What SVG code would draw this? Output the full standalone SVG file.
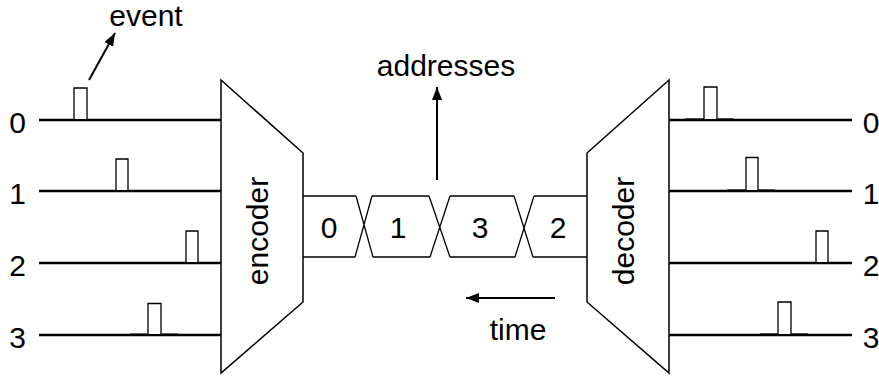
<svg xmlns="http://www.w3.org/2000/svg" width="879" height="376" viewBox="0 0 879 376">
  <style>
    .lbl { font-family: "Liberation Sans", Arial, Helvetica, sans-serif; font-size: 30px; fill: #000; }
    .mid { text-anchor: middle; }
    .wire { stroke: #000; stroke-width: 2.6; fill: none; }
    .pulse { stroke: #000; stroke-width: 1.3; fill: #fff; }
    .trail { stroke: #555; stroke-width: 1; fill: none; }
    .box { stroke: #000; stroke-width: 1.5; fill: #fff; }
    .bus { stroke: #000; stroke-width: 1.3; fill: none; }
    .arrow { stroke: #000; stroke-width: 2; fill: none; }
  </style>
  <defs>
    <marker id="head" markerUnits="userSpaceOnUse" markerWidth="14" markerHeight="12" refX="13" refY="5" orient="auto">
      <path d="M0,0 L13,5 L0,10 z" fill="#000"/>
    </marker>
  </defs>
  <rect width="879" height="376" fill="#fff"/>

  <!-- input channels with their spikes -->
  <g id="inputs">
    <g id="in0">
      <line class="wire" x1="39" y1="120" x2="221" y2="120"/>
      <polyline class="pulse" points="74,119 74,88 87,88 87,119"/>
      <text class="lbl mid" x="17.5" y="133">0</text>
    </g>
    <g id="in1">
      <line class="wire" x1="39" y1="191" x2="221" y2="191"/>
      <polyline class="pulse" points="116,190 116,159 128,159 128,190"/>
      <text class="lbl mid" x="17.5" y="204">1</text>
    </g>
    <g id="in2">
      <line class="wire" x1="39" y1="263" x2="221" y2="263"/>
      <polyline class="pulse" points="186,262 186,231 198,231 198,262"/>
      <text class="lbl mid" x="17.5" y="276">2</text>
    </g>
    <g id="in3">
      <line class="trail" x1="130" y1="333.8" x2="178" y2="333.8"/>
      <line class="wire" x1="39" y1="335" x2="221" y2="335"/>
      <polyline class="pulse" points="148,334 148,303.5 161,303.5 161,334"/>
      <text class="lbl mid" x="17.5" y="348">3</text>
    </g>
  </g>

  <!-- output channels with their spikes -->
  <g id="outputs">
    <g id="out0">
      <line class="trail" x1="685" y1="118.6" x2="734" y2="118.6"/>
      <line class="wire" x1="669" y1="120" x2="852" y2="120"/>
      <polyline class="pulse" points="704,119 704,87 717,87 717,119"/>
      <text class="lbl mid" x="871" y="133">0</text>
    </g>
    <g id="out1">
      <line class="trail" x1="727" y1="189.6" x2="775" y2="189.6"/>
      <line class="wire" x1="669" y1="191" x2="852" y2="191"/>
      <polyline class="pulse" points="746,190 746,157.5 758,157.5 758,190"/>
      <text class="lbl mid" x="871" y="204">1</text>
    </g>
    <g id="out2">
      <line class="wire" x1="669" y1="263" x2="852" y2="263"/>
      <polyline class="pulse" points="816,262 816,231 828,231 828,262"/>
      <text class="lbl mid" x="871" y="276">2</text>
    </g>
    <g id="out3">
      <line class="trail" x1="760" y1="333.6" x2="808" y2="333.6"/>
      <line class="wire" x1="669" y1="335" x2="852" y2="335"/>
      <polyline class="pulse" points="778,334 778,302 791,302 791,334"/>
      <text class="lbl mid" x="871" y="348">3</text>
    </g>
  </g>

  <!-- encoder block -->
  <g id="encoder">
    <polygon class="box" points="221,80 303,153 303,302 221,373"/>
    <text class="lbl mid" transform="translate(268,231) rotate(-90)">encoder</text>
  </g>

  <!-- decoder block -->
  <g id="decoder">
    <polygon class="box" points="669,80 587,153 587,302 669,373"/>
    <text class="lbl mid" transform="translate(634,231) rotate(-90)">decoder</text>
  </g>

  <!-- address bus: one cell per transmitted address -->
  <g id="bus">
    <path class="bus" d="M303,196 H356 M372,196 H429 M450,196 H514 M534,196 H587 M303,257 H355 M373,257 H430 M450,257 H515 M533,257 H587 M356,196 L373,257 M372,196 L355,257 M429,196 L450,257 M450,196 L430,257 M514,196 L533,257 M534,196 L515,257"/>
    <text class="lbl mid" x="329" y="238">0</text>
    <text class="lbl mid" x="398" y="238">1</text>
    <text class="lbl mid" x="480" y="238">3</text>
    <text class="lbl mid" x="558" y="238">2</text>
  </g>

  <!-- annotation arrows -->
  <g id="connectors">
    <line class="arrow" x1="89" y1="80" x2="115" y2="33" marker-end="url(#head)"/>
    <line class="arrow" x1="437" y1="180" x2="437" y2="87" marker-end="url(#head)"/>
    <line class="arrow" x1="555" y1="298" x2="466" y2="298" marker-end="url(#head)"/>
  </g>

  <g id="annotations">
    <text class="lbl mid" x="146" y="26">event</text>
    <text class="lbl mid" x="446" y="76">addresses</text>
    <text class="lbl mid" x="518" y="340">time</text>
  </g>
</svg>
